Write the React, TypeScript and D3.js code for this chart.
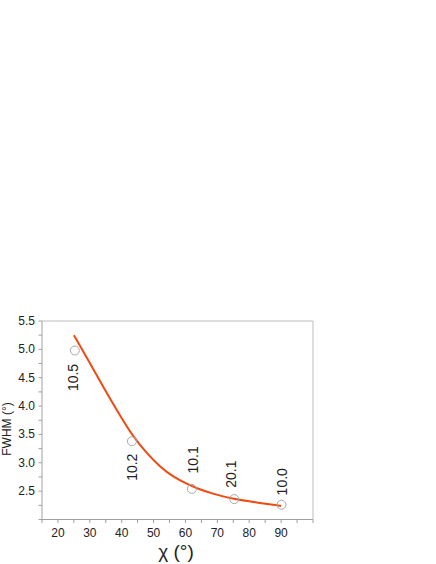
import React from "react"
import * as d3 from "d3"

// measured points
const chi = [25.3, 43.2, 62.0, 75.3, 90.1]
const fwhm = [4.98, 3.38, 2.54, 2.36, 2.26]
const pointLabels = ["10.5", "10.2", "10.1", "20.1", "10.0"]

// fitted curve
const fitChi = [25, 30, 34.2, 39.5, 43.6, 47.8, 52, 56.2, 60.4, 63.5, 68.7, 75, 82.3, 90]
const fitFwhm = [5.25, 4.76, 4.34, 3.83, 3.46, 3.17, 2.93, 2.75, 2.63, 2.55, 2.45, 2.36, 2.3, 2.24]

const xTicks = [20, 30, 40, 50, 60, 70, 80, 90]
const xMinor = [15, 25, 35, 45, 55, 65, 75, 85, 95, 100]
const yTicks = [2.5, 3.0, 3.5, 4.0, 4.5, 5.0, 5.5]
const yMinor = [2.0, 2.25, 2.75, 3.25, 3.75, 4.25, 4.75, 5.25]

const W = 436
const H = 564
const left = 42
const right = 313
const top = 321
const bottom = 519.5

// label offsets (px) relative to each point
const labelDx = [-2, 0, 1, -3, 1]
const labelDy = [27, 26, -29, -25, -23]

export default function App() {
  const x = d3.scaleLinear().domain([15, 100]).range([left, right])
  const y = d3.scaleLinear().domain([2.0, 5.5]).range([bottom, top])

  // basis spline smooths out the reading noise of the sampled fit
  const line = d3
    .line<number>()
    .x((_, i) => x(fitChi[i]))
    .y(d => y(d))
    .curve(d3.curveBasis)

  const font = "Arial, 'Liberation Sans', sans-serif"
  const axisColor = "#a0a0a0"

  return (
    <svg
      width={W}
      height={H}
      style={{ position: "absolute", left: 0, top: 0, background: "#fff" }}
      fontFamily={font}
    >
      {/* frame */}
      <line x1={left} x2={right} y1={top} y2={top} stroke="#bdbdbd" />
      <line x1={right} x2={right} y1={top} y2={bottom} stroke="#bdbdbd" />
      <line x1={left} x2={left} y1={top} y2={bottom} stroke={axisColor} />
      <line x1={left} x2={right} y1={bottom} y2={bottom} stroke={axisColor} />

      {/* x ticks */}
      {[...xTicks, ...xMinor].map(t => (
        <line key={"xt" + t} x1={x(t)} x2={x(t)} y1={bottom} y2={bottom + 3.5} stroke={axisColor} />
      ))}
      {xTicks.map(t => (
        <text key={"xl" + t} x={x(t)} y={537} fontSize={12} textAnchor="middle" fill="#222">
          {t}
        </text>
      ))}

      {/* y ticks */}
      {[...yTicks, ...yMinor].map(t => (
        <line key={"yt" + t} x1={left - 3.5} x2={left} y1={y(t)} y2={y(t)} stroke={axisColor} />
      ))}
      {yTicks.map(t => (
        <text key={"yl" + t} x={35} y={y(t) + 4} fontSize={12} textAnchor="end" fill="#222">
          {t.toFixed(1)}
        </text>
      ))}

      {/* axis titles */}
      <text
        transform={`translate(11,429) rotate(-90)`}
        fontSize={12}
        textAnchor="middle"
        fill="#222"
      >
        FWHM (°)
      </text>
      <text x={176} y={558} fontSize={19} textAnchor="middle" fill="#222">
        χ (°)
      </text>

      {/* fit */}
      <path d={line(fitFwhm) || ""} fill="none" stroke="#f04a10" strokeWidth={2} />

      {/* points */}
      {chi.map((c, i) => (
        <circle key={"p" + i} cx={x(c)} cy={y(fwhm[i])} r={4.5} fill="none" stroke="#a8a8a8" strokeWidth={1} />
      ))}

      {/* point labels */}
      {chi.map((c, i) => (
        <text
          key={"lab" + i}
          transform={`translate(${x(c) + labelDx[i]},${y(fwhm[i]) + labelDy[i]}) rotate(-90)`}
          fontSize={14}
          textAnchor="middle"
          dominantBaseline="central"
          fill="#222"
        >
          {pointLabels[i]}
        </text>
      ))}
    </svg>
  )
}
